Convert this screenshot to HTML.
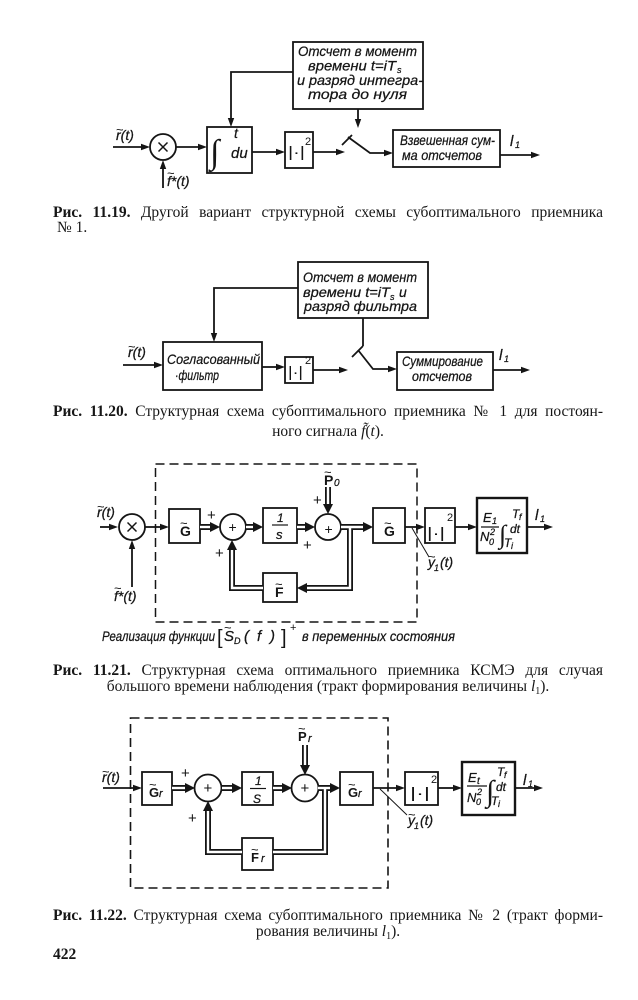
<!DOCTYPE html>
<html><head><meta charset="utf-8">
<style>
html,body{margin:0;padding:0;background:#fff;}
body{width:638px;height:1000px;position:relative;overflow:hidden;}
svg{position:absolute;left:0;top:0;}
.cap{position:absolute;left:53px;width:550px;font-family:"Liberation Serif","DejaVu Serif",serif;font-size:15.5px;line-height:16px;color:#161616;}
.j{text-align:justify;text-align-last:justify;}
.c{text-align:center;}
.sb{font-size:10px;position:relative;top:3px;}
</style></head><body>
<svg width="638" height="1000" viewBox="0 0 638 1000" xmlns="http://www.w3.org/2000/svg">
<style>
.d{font-family:"Liberation Sans",sans-serif;font-style:italic;fill:#151515;stroke:#151515;stroke-width:0.25;}
.n{font-family:"Liberation Sans",sans-serif;fill:#151515;}
.t{font-family:"Liberation Sans",sans-serif;fill:#151515;font-size:13px;}
.bd{font-family:"Liberation Sans",sans-serif;font-weight:bold;fill:#151515;}
.sr{font-family:"Liberation Serif",serif;font-style:italic;fill:#151515;}
</style>

<!-- ============ DIAGRAM 1 ============ -->
<g stroke="#151515" stroke-width="1.8" fill="none">
<rect x="293" y="42" width="130" height="67"/>
<rect x="207" y="127" width="45" height="46"/>
<rect x="285" y="132" width="28" height="36"/>
<rect x="393" y="130" width="107" height="37"/>
<circle cx="163" cy="147" r="13"/>
<polyline points="293,72 231,72 231,120"/>
<line x1="113" y1="147" x2="142" y2="147"/>
<line x1="163" y1="188" x2="163" y2="168"/>
<line x1="176" y1="147" x2="199" y2="147"/>
<line x1="252" y1="152" x2="277" y2="152"/>
<line x1="313" y1="152" x2="337" y2="152"/>
<line x1="358" y1="109" x2="358" y2="120"/>
<line x1="342" y1="145" x2="352" y2="135"/>
<polyline points="348,137 370,153 385,153"/>
<line x1="500" y1="155" x2="532" y2="155"/>
<line x1="158.5" y1="142.5" x2="167.5" y2="151.5" stroke-width="1.5"/>
<line x1="167.5" y1="142.5" x2="158.5" y2="151.5" stroke-width="1.5"/>
</g>
<g fill="#151515">
<polygon points="231,127 227.8,118 234.2,118"/>
<polygon points="150,147 141,143.8 141,150.2"/>
<polygon points="163,160 159.8,169 166.2,169"/>
<polygon points="207,147 198,143.8 198,150.2"/>
<polygon points="285,152 276,148.8 276,155.2"/>
<polygon points="345,152 336,148.8 336,155.2"/>
<polygon points="358,128 354.8,119 361.2,119"/>
<polygon points="393,153 384,149.8 384,156.2"/>
<polygon points="540,155 531,151.8 531,158.2"/>
</g>
<text class="d" x="298" y="56" font-size="14" textLength="119" lengthAdjust="spacingAndGlyphs">Отсчет в момент</text>
<text class="d" x="308" y="70.5" font-size="14" textLength="88" lengthAdjust="spacingAndGlyphs">времени t=iT</text>
<text class="d" x="397" y="73" font-size="9">s</text>
<text class="d" x="297" y="85" font-size="14" textLength="126" lengthAdjust="spacingAndGlyphs">и разряд интегра-</text>
<text class="d" x="308" y="99" font-size="14" textLength="99" lengthAdjust="spacingAndGlyphs">тора до нуля</text>
<text class="d" x="116" y="140" font-size="14">r(t)</text>
<text class="t" x="116" y="134">~</text>
<text class="d" x="167" y="186" font-size="14">f*(t)</text>
<text class="t" x="167" y="177.5">~</text>
<text class="sr" x="210" y="163" font-size="34">∫</text>
<text class="d" x="234" y="138" font-size="14">t</text>
<text class="d" x="231" y="158" font-size="15">du</text>
<text class="n" x="288" y="157" font-size="15" textLength="17" lengthAdjust="spacingAndGlyphs">|·|</text>
<text class="n" x="305" y="145" font-size="11">2</text>
<text class="d" x="400" y="145" font-size="14" textLength="95" lengthAdjust="spacingAndGlyphs">Взвешенная сум-</text>
<text class="d" x="402" y="160" font-size="14" textLength="80" lengthAdjust="spacingAndGlyphs">ма отсчетов</text>
<text class="d" x="510" y="146" font-size="15">l</text>
<text class="d" x="515" y="148" font-size="9">1</text>

<!-- ============ DIAGRAM 2 ============ -->
<g stroke="#151515" stroke-width="1.8" fill="none">
<rect x="298" y="262" width="130" height="56"/>
<rect x="163" y="342" width="99" height="48"/>
<rect x="285" y="357" width="28" height="26"/>
<rect x="397" y="352" width="96" height="38"/>
<polyline points="298,288 214,288 214,335"/>
<line x1="123" y1="365" x2="155" y2="365"/>
<line x1="262" y1="367" x2="277" y2="367"/>
<line x1="313" y1="370" x2="340" y2="370"/>
<line x1="363" y1="318" x2="363" y2="346"/>
<line x1="352" y1="357" x2="363" y2="346"/>
<polyline points="358,350 373,369 389,369"/>
<line x1="493" y1="370" x2="522" y2="370"/>
</g>
<g fill="#151515">
<polygon points="214,342 210.8,333 217.2,333"/>
<polygon points="163,365 154,361.8 154,368.2"/>
<polygon points="285,367 276,363.8 276,370.2"/>
<polygon points="348,370 339,366.8 339,373.2"/>
<polygon points="397,369 388,365.8 388,372.2"/>
<polygon points="530,370 521,366.8 521,373.2"/>
</g>
<text class="d" x="303" y="282" font-size="14" textLength="114" lengthAdjust="spacingAndGlyphs">Отсчет в момент</text>
<text class="d" x="303" y="297" font-size="14" textLength="87" lengthAdjust="spacingAndGlyphs">времени t=iT</text>
<text class="d" x="390" y="300" font-size="9">s</text>
<text class="d" x="399" y="297" font-size="14">и</text>
<text class="d" x="304" y="311" font-size="14" textLength="113" lengthAdjust="spacingAndGlyphs">разряд фильтра</text>
<text class="d" x="167" y="364" font-size="14" textLength="93" lengthAdjust="spacingAndGlyphs">Согласованный</text>
<text class="d" x="175" y="380" font-size="14" textLength="44" lengthAdjust="spacingAndGlyphs">·фильтр</text>
<text class="d" x="128" y="357" font-size="14">r(t)</text>
<text class="t" x="128" y="351">~</text>
<text class="n" x="288" y="377" font-size="15" textLength="15" lengthAdjust="spacingAndGlyphs">|·|</text>
<text class="n" x="305" y="364" font-size="11">2</text>
<text class="d" x="402" y="366" font-size="14" textLength="81" lengthAdjust="spacingAndGlyphs">Суммирование</text>
<text class="d" x="412" y="381" font-size="14" textLength="60" lengthAdjust="spacingAndGlyphs">отсчетов</text>
<text class="d" x="499" y="360" font-size="15">l</text>
<text class="d" x="504" y="362" font-size="9">1</text>

<!-- ============ DIAGRAM 3 ============ -->
<rect x="155.5" y="464" width="261.5" height="158" fill="none" stroke="#151515" stroke-width="1.5" stroke-dasharray="9,5"/>
<g stroke="#151515" stroke-width="1.8" fill="none">
<circle cx="132" cy="527" r="13"/>
<rect x="169" y="509" width="31" height="34"/>
<circle cx="233" cy="527" r="13"/>
<rect x="263" y="508" width="34" height="35"/>
<circle cx="328" cy="527" r="13"/>
<rect x="373" y="508" width="32" height="35"/>
<rect x="263" y="573" width="34" height="29"/>
<rect x="425" y="508" width="30" height="35"/>
<rect x="477" y="498" width="50" height="55" stroke-width="2.4"/>
<line x1="100" y1="527" x2="110" y2="527"/>
<line x1="132" y1="587" x2="132" y2="548"/>
<line x1="145" y1="527" x2="161" y2="527"/>
<line x1="405" y1="527" x2="417" y2="527"/>
<line x1="455" y1="527" x2="469" y2="527"/>
<line x1="527" y1="527" x2="545" y2="527"/>
<line x1="412" y1="528" x2="429" y2="557" stroke-width="1"/>
<line x1="127.5" y1="522.5" x2="136.5" y2="531.5" stroke-width="1.5"/>
<line x1="136.5" y1="522.5" x2="127.5" y2="531.5" stroke-width="1.5"/>
<line x1="272" y1="525" x2="288" y2="525" stroke-width="1.2"/>
<line x1="481" y1="527" x2="499" y2="527" stroke-width="1.2"/>
</g>
<g fill="none" stroke="#151515" stroke-width="6" stroke-linejoin="miter">
<line x1="200" y1="527" x2="211" y2="527"/>
<line x1="246" y1="527" x2="254" y2="527"/>
<line x1="297" y1="527" x2="306" y2="527"/>
<line x1="341" y1="527" x2="364" y2="527"/>
<polyline points="350,527 350,588 306,588"/>
<polyline points="263,588 232,588 232,549"/>
<line x1="328" y1="487" x2="328" y2="505"/>
</g>
<g fill="none" stroke="#fff" stroke-width="2.4" stroke-linejoin="miter">
<line x1="200" y1="527" x2="211" y2="527"/>
<line x1="246" y1="527" x2="254" y2="527"/>
<line x1="297" y1="527" x2="306" y2="527"/>
<line x1="341" y1="527" x2="364" y2="527"/>
<polyline points="350,527 350,588 306,588"/>
<polyline points="263,588 232,588 232,549"/>
<line x1="328" y1="487" x2="328" y2="505"/>
</g>
<g fill="#151515">
<polygon points="118,527 109,523.8 109,530.2"/>
<polygon points="132,540 128.8,549 135.2,549"/>
<polygon points="169,527 160,523.8 160,530.2"/>
<polygon points="425,527 416,523.8 416,530.2"/>
<polygon points="477,527 468,523.8 468,530.2"/>
<polygon points="553,527 544,523.8 544,530.2"/>
<polygon points="220,527 210,522 210,532"/>
<polygon points="263,527 253,522 253,532"/>
<polygon points="315,527 305,522 305,532"/>
<polygon points="373,527 363,522 363,532"/>
<polygon points="297,588 307,583 307,593"/>
<polygon points="232,540 227,550 237,550"/>
<polygon points="328,514 323,504 333,504"/>
</g>
<text class="d" x="97" y="517" font-size="14">r(t)</text>
<text class="t" x="97" y="511">~</text>
<text class="d" x="114" y="601" font-size="14">f*(t)</text>
<text class="t" x="114" y="592.5">~</text>
<text class="bd" x="180" y="536" font-size="14">G</text>
<text class="t" x="180" y="527.5">~</text>
<text class="n" x="207" y="520" font-size="15">+</text>
<text class="n" x="228.5" y="532" font-size="14">+</text>
<text class="n" x="215" y="558" font-size="15">+</text>
<text class="d" x="277" y="522" font-size="12">1</text>
<text class="d" x="276" y="539" font-size="13">s</text>
<text class="n" x="324.5" y="534" font-size="14">+</text>
<text class="n" x="313" y="505" font-size="15">+</text>
<text class="n" x="303" y="550" font-size="15">+</text>
<text class="bd" x="324" y="485" font-size="14">P</text>
<text class="t" x="324" y="476.5">~</text>
<text class="d" x="334" y="486" font-size="10">0</text>
<text class="bd" x="384" y="536" font-size="14">G</text>
<text class="t" x="384" y="527.5">~</text>
<text class="bd" x="275" y="597" font-size="14">F</text>
<text class="t" x="275" y="588.5">~</text>
<text class="d" x="428" y="567" font-size="14">y</text>
<text class="t" x="428" y="561">~</text>
<text class="d" x="434" y="571" font-size="9">1</text>
<text class="d" x="440" y="567" font-size="14">(t)</text>
<text class="n" x="427" y="538" font-size="15" textLength="18" lengthAdjust="spacingAndGlyphs">|·|</text>
<text class="n" x="447" y="521" font-size="11">2</text>
<text class="d" x="483" y="522" font-size="13">E</text>
<text class="d" x="492" y="524" font-size="9">1</text>
<text class="d" x="480" y="541" font-size="13">N</text>
<text class="d" x="489" y="545" font-size="9">0</text>
<text class="d" x="490" y="535" font-size="9">2</text>
<text class="sr" x="499" y="543" font-size="26">∫</text>
<text class="d" x="512" y="518" font-size="12">T</text>
<text class="d" x="519" y="520" font-size="9">f</text>
<text class="d" x="510" y="533" font-size="12">dt</text>
<text class="d" x="504" y="547" font-size="12">T</text>
<text class="d" x="511" y="549" font-size="9">i</text>
<text class="d" x="535" y="520" font-size="15">l</text>
<text class="d" x="540" y="522" font-size="9">1</text>
<text class="d" x="102" y="641" font-size="14" textLength="113" lengthAdjust="spacingAndGlyphs">Реализация функции</text>
<text class="n" x="217" y="644" font-size="20">[</text>
<text class="d" x="224" y="641" font-size="15">S</text>
<text class="t" x="224" y="632">~</text>
<text class="d" x="234" y="644" font-size="9">D</text>
<text class="d" x="244" y="641" font-size="15">(</text>
<text class="d" x="257" y="641" font-size="15">f</text>
<text class="d" x="270" y="641" font-size="15">)</text>
<text class="n" x="281" y="644" font-size="20">]</text>
<text class="n" x="290" y="631" font-size="11">+</text>
<text class="d" x="302" y="641" font-size="14" textLength="153" lengthAdjust="spacingAndGlyphs">в переменных состояния</text>

<!-- ============ DIAGRAM 4 ============ -->
<rect x="130.5" y="718" width="257.5" height="170" fill="none" stroke="#151515" stroke-width="1.6" stroke-dasharray="9,5"/>
<g stroke="#151515" stroke-width="1.8" fill="none">
<rect x="142" y="772" width="30" height="33"/>
<circle cx="208" cy="788" r="13.5"/>
<rect x="242" y="772" width="31" height="33"/>
<circle cx="305" cy="788" r="13.5"/>
<rect x="340" y="772" width="33" height="33"/>
<rect x="242" y="838" width="31" height="32"/>
<rect x="405" y="772" width="33" height="33"/>
<rect x="462" y="762" width="53" height="53" stroke-width="2.4"/>
<line x1="103" y1="788" x2="134" y2="788"/>
<line x1="373" y1="788" x2="397" y2="788"/>
<line x1="438" y1="788" x2="454" y2="788"/>
<line x1="515" y1="788" x2="535" y2="788"/>
<line x1="380" y1="789" x2="407" y2="815" stroke-width="1"/>
<line x1="250" y1="788.5" x2="266" y2="788.5" stroke-width="1.2"/>
<line x1="467" y1="786" x2="487" y2="786" stroke-width="1.2"/>
</g>
<g fill="none" stroke="#151515" stroke-width="6" stroke-linejoin="miter">
<line x1="172" y1="788" x2="186" y2="788"/>
<line x1="222" y1="788" x2="233" y2="788"/>
<line x1="273" y1="788" x2="283" y2="788"/>
<line x1="318" y1="788" x2="331" y2="788"/>
<polyline points="325,788 325,852 273,852"/>
<polyline points="242,852 208,852 208,810"/>
<line x1="305" y1="745" x2="305" y2="766"/>
</g>
<g fill="none" stroke="#fff" stroke-width="2.4" stroke-linejoin="miter">
<line x1="172" y1="788" x2="186" y2="788"/>
<line x1="222" y1="788" x2="233" y2="788"/>
<line x1="273" y1="788" x2="283" y2="788"/>
<line x1="318" y1="788" x2="331" y2="788"/>
<polyline points="325,788 325,852 273,852"/>
<polyline points="242,852 208,852 208,810"/>
<line x1="305" y1="745" x2="305" y2="766"/>
</g>
<g fill="#151515">
<polygon points="142,788 133,784.8 133,791.2"/>
<polygon points="405,788 396,784.8 396,791.2"/>
<polygon points="462,788 453,784.8 453,791.2"/>
<polygon points="543,788 534,784.8 534,791.2"/>
<polygon points="195,788 185,783 185,793"/>
<polygon points="242,788 232,783 232,793"/>
<polygon points="292,788 282,783 282,793"/>
<polygon points="340,788 330,783 330,793"/>
<polygon points="208,801 203,811 213,811"/>
<polygon points="305,775 300,765 310,765"/>
</g>
<text class="d" x="102" y="782" font-size="14">r(t)</text>
<text class="t" x="102" y="776">~</text>
<text class="bd" x="149" y="797" font-size="13">G</text>
<text class="t" x="149" y="789">~</text>
<text class="d" x="159" y="797" font-size="11">r</text>
<text class="n" x="181" y="778" font-size="15">+</text>
<text class="n" x="203.5" y="793" font-size="15">+</text>
<text class="n" x="188" y="823" font-size="15">+</text>
<text class="d" x="255" y="785" font-size="12">1</text>
<text class="d" x="253" y="803" font-size="12">S</text>
<text class="n" x="300.5" y="793" font-size="15">+</text>
<text class="bd" x="298" y="741" font-size="13">P</text>
<text class="t" x="298" y="733">~</text>
<text class="d" x="308" y="742" font-size="11">r</text>
<text class="bd" x="348" y="797" font-size="13">G</text>
<text class="t" x="348" y="789">~</text>
<text class="d" x="358" y="797" font-size="11">r</text>
<text class="bd" x="251" y="862" font-size="13">F</text>
<text class="t" x="251" y="854">~</text>
<text class="d" x="261" y="862" font-size="11">r</text>
<text class="d" x="408" y="825" font-size="14">y</text>
<text class="t" x="408" y="819">~</text>
<text class="d" x="414" y="829" font-size="9">1</text>
<text class="d" x="420" y="825" font-size="14">(t)</text>
<text class="n" x="410" y="798" font-size="15" textLength="20" lengthAdjust="spacingAndGlyphs">|·|</text>
<text class="n" x="431" y="783" font-size="11">2</text>
<text class="d" x="468" y="782" font-size="13">E</text>
<text class="d" x="477" y="784" font-size="10">t</text>
<text class="d" x="467" y="802" font-size="13">N</text>
<text class="d" x="476" y="805" font-size="9">0</text>
<text class="d" x="477" y="795" font-size="9">2</text>
<text class="sr" x="486" y="801" font-size="30">∫</text>
<text class="d" x="497" y="776" font-size="12">T</text>
<text class="d" x="504" y="778" font-size="9">f</text>
<text class="d" x="496" y="791" font-size="12">dt</text>
<text class="d" x="491" y="805" font-size="12">T</text>
<text class="d" x="498" y="807" font-size="9">i</text>
<text class="d" x="523" y="785" font-size="15">l</text>
<text class="d" x="528" y="787" font-size="9">1</text>
</svg>

<div class="cap j" style="top:205px;"><b>Рис. 11.19.</b> Другой вариант структурной схемы субоптимального приемника</div>
<div class="cap" style="top:220px;left:57px;">№ 1.</div>

<div class="cap j" style="top:404px;"><b>Рис. 11.20.</b> Структурная схема субоптимального приемника № 1 для постоян-</div>
<div class="cap c" style="top:424px;">ного сигнала <i>f̃</i>(<i>t</i>).</div>

<div class="cap j" style="top:663px;"><b>Рис. 11.21.</b> Структурная схема оптимального приемника КСМЭ для случая</div>
<div class="cap c" style="top:679px;">большого времени наблюдения (тракт формирования величины <i>l</i><span class="sb">1</span>).</div>

<div class="cap j" style="top:908px;"><b>Рис. 11.22.</b> Структурная схема субоптимального приемника № 2 (тракт форми-</div>
<div class="cap c" style="top:924px;">рования величины <i>l</i><span class="sb">1</span>).</div>

<div class="cap" style="top:947px;"><b>422</b></div>
</body></html>
